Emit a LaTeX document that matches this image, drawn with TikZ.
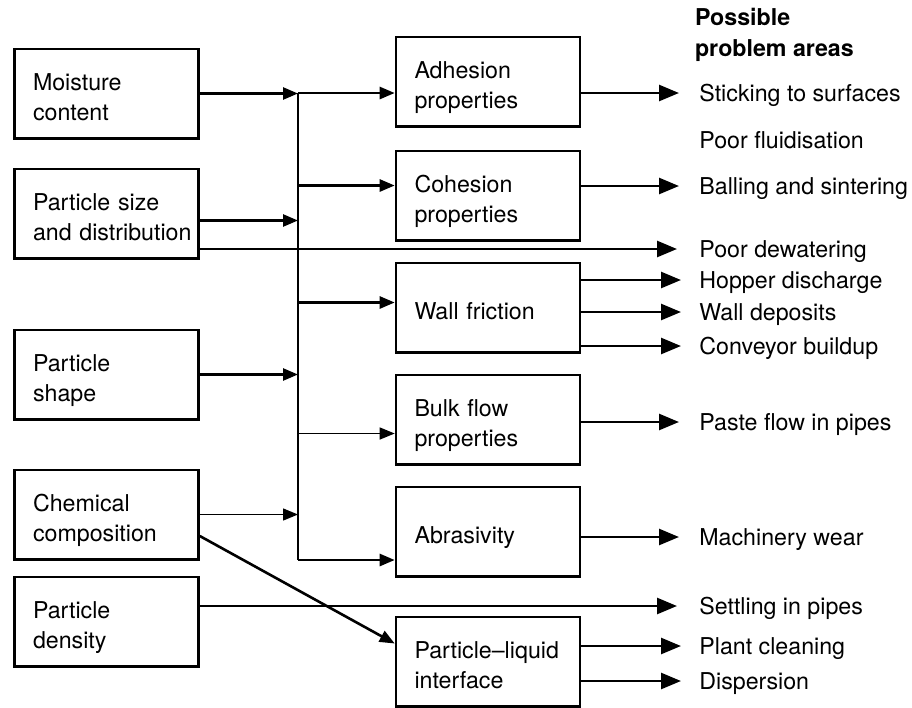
\documentclass[tikz,border=0pt]{standalone}
\usepackage{fontspec}
\setmainfont{TeX Gyre Heros}
\usepackage{tikz}
\usetikzlibrary{arrows.meta}
\usetikzlibrary{positioning}

\begin{document}
\begin{tikzpicture}[x=0.5pt,y=-0.5pt,
    font=\fontsize{11.6}{15}\selectfont,
    >={Triangle[length=7.5pt,width=6pt]},
    box/.style={draw,line width=1.3pt,minimum width=92pt,minimum height=44.7pt,
        text width=88pt,inner xsep=0pt,align=left,
        execute at begin node={\leftskip=7.25pt\rule{0pt}{14.5pt}},
        execute at end node={\rule[-3pt]{0pt}{3pt}}},
    prob/.style={anchor=west,inner sep=0pt,text height=2ex,text depth=.45ex},
    link/.style={line width=1.3pt},
    thinlink/.style={line width=0.7pt},
    outlink/.style={line width=1.3pt,-{Triangle[length=10pt,width=8pt]}}]
	\useasboundingbox (0,0) rectangle (912,708);
	% properties of the solid
	\node (moist) [box] at (106.5,93.5) {Moisture\\content};
	\node (size) [box,below=14pt of moist] {Particle size\\and distribution};
	\node (shape) [box,below=34.5pt of size] {Particle\\shape};
	\node (chem) [box,below=24pt of shape] {Chemical\\composition};
	\node (dens) [box,below=7.5pt of chem] {Particle\\density};
	% handling behaviour
	\node (adh) [box] at (488,81.5) {Adhesion\\properties};
	\node (coh) [box,below=11pt of adh] {Cohesion\\properties};
	\node (wall) [box,below=10pt of coh] {Wall friction};
	\node (bulk) [box,below=10pt of wall] {Bulk flow\\properties};
	\node (abras) [box,below=10pt of bulk] {Abrasivity};
	\node (pl) [box,below=19pt of abras] {Particle--liquid\\interface};
	% problem areas
	\node (head) [anchor=west,align=left,font=\fontsize{11.6}{15.5}\selectfont\bfseries] at (688,35) {Possible\\problem areas};
	\node (stick) [prob] at (699,93) {Sticking to surfaces};
	\node (fluid) [prob] at (699,140) {Poor fluidisation};
	\node (ball) [prob] at (699,186) {Balling and sintering};
	\node (dewater) [prob] at (699,249) {Poor dewatering};
	\node (hopper) [prob] at (699,280) {Hopper discharge};
	\node (deposit) [prob] at (699,312) {Wall deposits};
	\node (conv) [prob] at (699,346) {Conveyor buildup};
	\node (paste) [prob] at (699,422) {Paste flow in pipes};
	\node (wear) [prob] at (699,537) {Machinery wear};
	\node (settle) [prob] at (699,606) {Settling in pipes};
	\node (clean) [prob] at (699,646) {Plant cleaning};
	\node (disp) [prob] at (699,681) {Dispersion};
	% collecting line
	\coordinate (bustop) at (298,93);
	\coordinate (busbot) at (298,560);
	\draw[link] (bustop) -- (busbot);
	\draw[link,->] (moist.east) -- (moist.east -| bustop);
	\draw[link,->] ([yshift=-3.5pt]size.east) -- ([yshift=-3.5pt]size.east -| bustop);
	\draw[link,->] (shape.east) -- (shape.east -| bustop);
	\draw[thinlink,->] (chem.east) -- (chem.east -| bustop);
	\draw[link,->] (bustop) -- (adh.west |- bustop);
	\draw[link,->] ([yshift=5pt]coh.west -| bustop) -- ([yshift=5pt]coh.west);
	\draw[link,->] ([yshift=2.5pt]wall.west -| bustop) -- ([yshift=2.5pt]wall.west);
	\draw[thinlink,->] ([yshift=-7pt]bulk.west -| bustop) -- ([yshift=-7pt]bulk.west);
	\draw[link,->] (busbot) -- (abras.west |- busbot);
	\draw[link,->] ([yshift=-10.75pt]chem.east) -- ([yshift=9pt]pl.west);
	% to the problem areas
	\draw[outlink] (adh.east |- stick) -- ([xshift=-10pt]stick.west);
	\draw[outlink] (coh.east |- ball) -- ([xshift=-10pt]ball.west);
	\draw[outlink] (size.east |- dewater) -- ([xshift=-11pt]dewater.west);
	\draw[outlink] (wall.east |- hopper) -- ([xshift=-9pt]hopper.west);
	\draw[outlink] (wall.east |- deposit) -- ([xshift=-9pt]deposit.west);
	\draw[outlink] (wall.east |- conv) -- ([xshift=-9pt]conv.west);
	\draw[outlink] (bulk.east |- paste) -- ([xshift=-10pt]paste.west);
	\draw[outlink] (abras.east |- wear) -- ([xshift=-10pt]wear.west);
	\draw[outlink] (dens.east |- settle) -- ([xshift=-11pt]settle.west);
	\draw[outlink] (pl.east |- clean) -- ([xshift=-9pt]clean.west);
	\draw[outlink] (pl.east |- disp) -- ([xshift=-9pt]disp.west);
\end{tikzpicture}
\end{document}
